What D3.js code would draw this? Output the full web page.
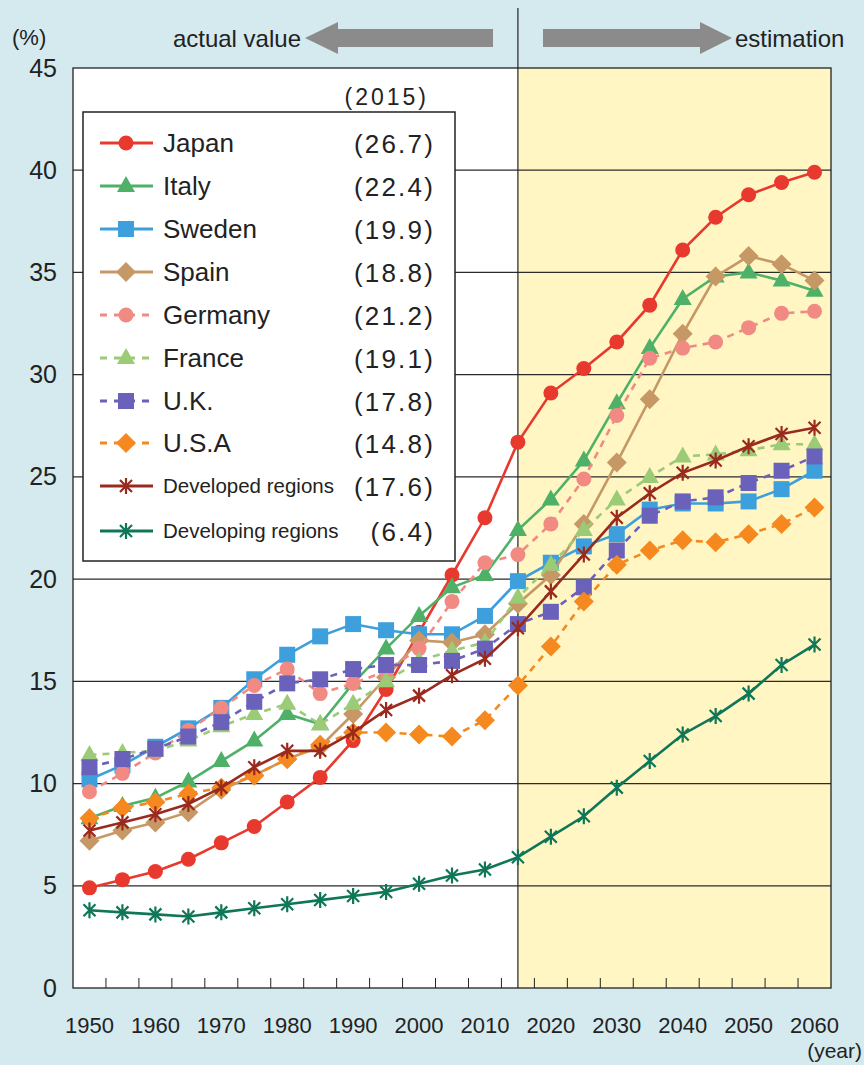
<!DOCTYPE html>
<html>
<head>
<meta charset="UTF-8">
<style>
  body { margin: 0; background: #d4eaef; }
  svg { display: block; font-family: "Liberation Sans", Arial, sans-serif; }
</style>
</head>
<body>
<svg id="chart" width="864" height="1065"></svg>
<script src="https://d3js.org/d3.v7.min.js"></script>
<script>

// ---- data ----
const years = [1950, 1955, 1960, 1965, 1970, 1975, 1980, 1985, 1990, 1995, 2000, 2005,
               2010, 2015, 2020, 2025, 2030, 2035, 2040, 2045, 2050, 2055, 2060];
const yearLabels = [1950, 1960, 1970, 1980, 1990, 2000, 2010, 2020, 2030, 2040, 2050, 2060];
const yTicks = [0, 5, 10, 15, 20, 25, 30, 35, 40, 45];
const splitYear = 2015;

const japan      = [4.9, 5.3, 5.7, 6.3, 7.1, 7.9, 9.1, 10.3, 12.1, 14.6, 17.4, 20.2, 23.0, 26.7, 29.1, 30.3, 31.6, 33.4, 36.1, 37.7, 38.8, 39.4, 39.9];
const italy      = [8.3, 8.9, 9.3, 10.1, 11.1, 12.1, 13.4, 12.9, 14.9, 16.6, 18.2, 19.6, 20.2, 22.4, 23.9, 25.8, 28.6, 31.3, 33.7, 34.8, 35.0, 34.6, 34.1];
const sweden     = [10.2, 10.9, 11.8, 12.7, 13.7, 15.1, 16.3, 17.2, 17.8, 17.5, 17.3, 17.3, 18.2, 19.9, 20.8, 21.6, 22.2, 23.4, 23.7, 23.7, 23.8, 24.4, 25.3];
const spain      = [7.2, 7.7, 8.1, 8.6, 9.7, 10.4, 11.2, 11.8, 13.4, 15.2, 17.0, 16.9, 17.3, 18.8, 20.2, 22.7, 25.7, 28.8, 32.0, 34.8, 35.8, 35.4, 34.6];
const germany    = [9.6, 10.5, 11.5, 12.6, 13.7, 14.8, 15.6, 14.4, 14.9, 15.5, 16.6, 18.9, 20.8, 21.2, 22.7, 24.9, 28.0, 30.8, 31.3, 31.6, 32.3, 33.0, 33.1];
const france     = [11.4, 11.5, 11.6, 12.1, 12.8, 13.4, 13.9, 12.9, 13.9, 15.0, 16.0, 16.5, 16.9, 19.1, 20.7, 22.4, 23.9, 25.0, 26.0, 26.1, 26.3, 26.6, 26.6];
const uk         = [10.8, 11.2, 11.7, 12.3, 13.0, 14.0, 14.9, 15.1, 15.6, 15.8, 15.8, 16.0, 16.6, 17.8, 18.4, 19.6, 21.4, 23.1, 23.8, 24.0, 24.7, 25.3, 26.0];
const usa        = [8.3, 8.8, 9.1, 9.5, 9.8, 10.4, 11.2, 11.9, 12.5, 12.5, 12.4, 12.3, 13.1, 14.8, 16.7, 18.9, 20.7, 21.4, 21.9, 21.8, 22.2, 22.7, 23.5];
const developed  = [7.7, 8.1, 8.5, 9.0, 9.8, 10.8, 11.6, 11.6, 12.5, 13.6, 14.3, 15.3, 16.1, 17.6, 19.4, 21.2, 23.0, 24.2, 25.2, 25.8, 26.5, 27.1, 27.4];
const developing = [3.8, 3.7, 3.6, 3.5, 3.7, 3.9, 4.1, 4.3, 4.5, 4.7, 5.1, 5.5, 5.8, 6.4, 7.4, 8.4, 9.8, 11.1, 12.4, 13.3, 14.4, 15.8, 16.8];

const seriesNames  = ["Japan", "Italy", "Sweden", "Spain", "Germany", "France", "U.K.", "U.S.A", "Developed regions", "Developing regions"];
const seriesValues = [japan, italy, sweden, spain, germany, france, uk, usa, developed, developing];
const legendValues = ["(26.7)", "(22.4)", "(19.9)", "(18.8)", "(21.2)", "(19.1)", "(17.8)", "(14.8)", "(17.6)", "(6.4)"];

// ---- styles ----
const styles = {
  "Japan":              { color: "#e8392e", dash: null, marker: "circle" },
  "Italy":              { color: "#4fb168", dash: null, marker: "triangle" },
  "Sweden":             { color: "#3d9fdc", dash: null, marker: "square" },
  "Spain":              { color: "#c69866", dash: null, marker: "diamond" },
  "Germany":            { color: "#f28a84", dash: "7,6", marker: "circle" },
  "France":             { color: "#9ccb78", dash: "7,6", marker: "triangle" },
  "U.K.":               { color: "#6a62ba", dash: "7,6", marker: "square" },
  "U.S.A":              { color: "#f5891f", dash: "7,6", marker: "diamond" },
  "Developed regions":  { color: "#9a2a1e", dash: null, marker: "star" },
  "Developing regions": { color: "#0f7758", dash: null, marker: "star" }
};

const W = 864, H = 1065;
const margin = { left: 73, right: 33, top: 68, bottom: 77 };

const svg = d3.select("#chart");

const x = d3.scaleBand().domain(years).range([margin.left, W - margin.right]).padding(0);
const y = d3.scaleLinear().domain([0, 45]).range([H - margin.bottom, margin.top]);
const cx = yr => x(yr) + x.bandwidth() / 2;

// background
svg.append("rect").attr("width", W).attr("height", H).attr("fill", "#d4eaef");

// plot area: white actual part, yellow estimation part
svg.append("rect")
  .attr("x", margin.left).attr("y", y(45))
  .attr("width", cx(splitYear) - margin.left).attr("height", y(0) - y(45))
  .attr("fill", "#ffffff");
svg.append("rect")
  .attr("x", cx(splitYear)).attr("y", y(45))
  .attr("width", W - margin.right - cx(splitYear)).attr("height", y(0) - y(45))
  .attr("fill", "#fff6c4");

// gridlines
svg.append("g").selectAll("line")
  .data(yTicks.filter(d => d > 0 && d < 45))
  .join("line")
  .attr("x1", margin.left).attr("x2", W - margin.right)
  .attr("y1", d => y(d)).attr("y2", d => y(d))
  .attr("stroke", "#2b2b2b").attr("stroke-width", 1.2);

// y axis labels
const yAxis = svg.append("g")
  .attr("transform", `translate(${margin.left},0)`)
  .call(d3.axisLeft(y).tickValues(yTicks).tickSize(0).tickPadding(16).tickFormat(d3.format("d")));
yAxis.select(".domain").remove();
yAxis.selectAll("text").attr("font-size", 25).attr("fill", "#222").attr("font-family", "Liberation Sans, Arial, sans-serif");

// x axis labels
const xAxis = svg.append("g")
  .attr("transform", `translate(0,${y(0)})`)
  .call(d3.axisBottom(x).tickValues(yearLabels).tickSize(0).tickPadding(29));
xAxis.select(".domain").remove();
xAxis.selectAll("text").attr("font-size", 22).attr("fill", "#222").attr("font-family", "Liberation Sans, Arial, sans-serif");

// inner ticks at category boundaries
svg.append("g").selectAll("line")
  .data(years.slice(1))
  .join("line")
  .attr("x1", d => x(d)).attr("x2", d => x(d))
  .attr("y1", y(0)).attr("y2", y(0) - 10)
  .attr("stroke", "#222").attr("stroke-width", 1);

// frame
svg.append("rect")
  .attr("x", margin.left).attr("y", y(45))
  .attr("width", W - margin.right - margin.left).attr("height", y(0) - y(45))
  .attr("fill", "none").attr("stroke", "#222").attr("stroke-width", 1.3);

// divider between actual and estimation
svg.append("line")
  .attr("x1", cx(splitYear)).attr("x2", cx(splitYear))
  .attr("y1", 8).attr("y2", y(0))
  .attr("stroke", "#222").attr("stroke-width", 1.2);

// markers
function marker(g, type, color) {
  if (type === "circle") {
    g.append("circle").attr("r", 7.5).attr("fill", color);
  } else if (type === "triangle") {
    g.append("path").attr("d", "M0,-10L9,6L-9,6Z").attr("fill", color);
  } else if (type === "square") {
    g.append("rect").attr("x", -8).attr("y", -8).attr("width", 16).attr("height", 16).attr("fill", color);
  } else if (type === "diamond") {
    g.append("path").attr("d", "M0,-10L10,0L0,10L-10,0Z").attr("fill", color);
  } else if (type === "star") {
    g.append("path").attr("d", "M-6,-6L6,6M6,-6L-6,6M0,-8L0,8")
      .attr("stroke", color).attr("stroke-width", 2.2).attr("fill", "none");
  }
}

// series
const line = d3.line().x((d, i) => cx(years[i])).y(d => y(d));
seriesNames.forEach((name, k) => {
  const st = styles[name];
  const vals = seriesValues[k];
  const g = svg.append("g");
  g.append("path")
    .attr("d", line(vals))
    .attr("fill", "none")
    .attr("stroke", st.color)
    .attr("stroke-width", 2.6)
    .attr("stroke-dasharray", st.dash);
  vals.forEach((v, i) => {
    const m = g.append("g").attr("transform", `translate(${cx(years[i])},${y(v)})`);
    marker(m, st.marker, st.color);
  });
});

// legend
const legendTop = 112, legendLeft = 83, legendRight = 455, legendBottom = 561;
const rowY = [143, 186, 229, 272, 315, 358, 401, 443, 486, 531];
svg.append("rect")
  .attr("x", legendLeft).attr("y", legendTop)
  .attr("width", legendRight - legendLeft).attr("height", legendBottom - legendTop)
  .attr("fill", "#ffffff").attr("stroke", "#222").attr("stroke-width", 1.5);
svg.append("text")
  .attr("x", 429).attr("y", 105).attr("text-anchor", "end")
  .attr("letter-spacing", 3)
  .attr("font-size", 23).attr("fill", "#222").text("(2015)");

seriesNames.forEach((name, k) => {
  const st = styles[name];
  const ry = rowY[k];
  const lg = svg.append("g");
  lg.append("line")
    .attr("x1", 100).attr("x2", 153).attr("y1", ry).attr("y2", ry)
    .attr("stroke", st.color).attr("stroke-width", 3)
    .attr("stroke-dasharray", st.dash ? "7,7" : null);
  marker(lg.append("g").attr("transform", `translate(126,${ry})`), st.marker, st.color);
  const small = k >= 8;
  lg.append("text")
    .attr("x", 163).attr("y", ry + (small ? 7 : 9))
    .attr("font-size", small ? 20.5 : 26)
    .attr("fill", "#222").text(name);
  lg.append("text")
    .attr("x", 435).attr("y", ry + 10).attr("text-anchor", "end")
    .attr("letter-spacing", 2.2)
    .attr("font-size", 26).attr("fill", "#222").text(legendValues[k]);
});

// header: unit, arrows
svg.append("text").attr("x", 12).attr("y", 45).attr("font-size", 22).attr("fill", "#222").text("(%)");
svg.append("text").attr("x", 301).attr("y", 47).attr("text-anchor", "end")
  .attr("font-size", 24).attr("fill", "#222").text("actual value");
svg.append("text").attr("x", 735).attr("y", 47)
  .attr("font-size", 24).attr("fill", "#222").text("estimation");
svg.append("path")
  .attr("d", "M305,38L338,22L338,29L493,29L493,47L338,47L338,54Z")
  .attr("fill", "#8b8b8b");
svg.append("path")
  .attr("d", "M732,38L700,22L700,29L543,29L543,47L700,47L700,54Z")
  .attr("fill", "#8b8b8b");

// year unit
svg.append("text").attr("x", 862).attr("y", 1058).attr("text-anchor", "end")
  .attr("font-size", 21).attr("fill", "#222").text("(year)");

</script>
</body>
</html>
